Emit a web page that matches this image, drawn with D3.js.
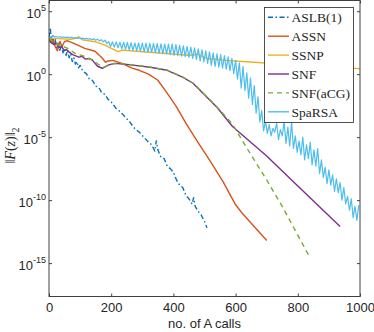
<!DOCTYPE html>
<html>
<head>
<meta charset="utf-8">
<script src="https://cdn.jsdelivr.net/npm/d3@7"></script>
<style>
  body { margin: 0; background: #fff; }
  svg { display: block; }
</style>
</head>
<body>
<svg id="chart" width="374" height="332"></svg>
<script>
// values are log10 of ||F(z)||_2
const seriesNames = ["ASLB(1)", "ASSN", "SSNP", "SNF", "SNF(aCG)", "SpaRSA"];
const seriesColors = ["#0072BD", "#D95319", "#EDB120", "#7E2F8E", "#77AC30", "#4DBEEE"];

const aslbCalls = [0, 4, 8, 12, 16, 20, 25, 30, 35, 40, 45, 50, 55, 60, 65, 70, 75, 80, 85, 90, 95, 100,
  110, 120, 130, 140, 150, 160, 170, 180, 190, 200, 215, 230, 245, 260, 275, 290, 305, 320, 330, 340,
  345, 350, 360, 370, 380, 390, 400, 410, 420, 430, 440, 450, 460, 465, 470, 480, 490, 500, 508];
const aslbLog = [2.9, 3.7, 2.6, 3.1, 2.3, 2.75, 2.0, 2.5, 1.9, 2.3, 1.7, 2.0, 1.5, 1.9, 1.3, 1.6, 1.0, 1.3, 0.8, 1.0, 0.5, 0.7,
  0.2, 0.05, -0.4, -0.5, -0.95, -1.05, -1.5, -1.6, -2.0, -2.2, -2.7, -3.0, -3.4, -3.8, -4.3, -4.6, -5.0, -5.4, -5.6, -6.1,
  -5.3, -6.0, -6.6, -6.7, -7.3, -7.5, -7.8, -8.4, -8.8, -9.0, -9.6, -9.9, -10.3, -9.8, -10.5, -10.9, -11.2, -11.7, -12.2];

const assnCalls = [0, 8, 14, 20, 27, 35, 42, 50, 60, 80, 115, 148, 170, 182, 190, 205, 235, 265, 290, 320,
  350, 380, 410, 440, 480, 520, 560, 600, 620, 700];
const assnLog = [2.84, 2.45, 2.7, 2.2, 1.85, 2.6, 2.2, 2.6, 2.65, 2.45, 2.05, 1.82, 1.3, 0.95, 1.05, 1.1, 0.86, 0.5, 0.31, 0.0,
  -0.48, -1.5, -2.6, -3.88, -5.46, -6.97, -8.55, -10.37, -11.0, -13.2];

const ssnpCalls = [0, 30, 70, 85, 95, 108, 148, 180, 212, 222, 235, 300, 380, 444, 466, 476, 490, 508, 560, 646, 750, 850, 1000];
const ssnpLog = [2.84, 2.82, 2.76, 2.85, 2.97, 2.72, 2.58, 2.31, 1.91, 1.79, 1.91, 1.78, 1.64, 1.5, 1.52, 1.63, 1.45, 1.25, 1.12, 0.97, 0.8, 0.65, 0.44];

const snfCalls = [0, 8, 16, 24, 32, 40, 48, 56, 66, 76, 86, 96, 106, 116, 128, 140, 156, 172, 190, 210, 250, 325,
  380, 431, 463, 508, 540, 590, 700, 800, 936];
const snfLog = [2.68, 2.5, 2.35, 2.45, 2.1, 2.2, 1.9, 1.95, 1.73, 1.55, 1.45, 1.35, 1.42, 1.2, 1.25, 1.1, 0.63, 0.47, 0.72, 0.86, 0.78, 0.55,
  0.31, -0.25, -0.72, -1.83, -2.62, -4.15, -6.5, -8.87, -12.1];

const acgCalls = [0, 10, 20, 30, 40, 50, 60, 72, 84, 96, 110, 124, 140, 160, 176, 192, 212, 250, 325, 380, 431, 463,
  508, 540, 590, 640, 700, 750, 839];
const acgLog = [2.84, 2.6, 2.5, 2.3, 2.35, 2.15, 2.05, 1.85, 1.65, 1.55, 1.45, 1.25, 1.15, 0.75, 0.55, 0.72, 0.86, 0.8, 0.57, 0.32, -0.24, -0.7,
  -1.8, -2.6, -3.96, -6.02, -8.4, -10.5, -14.56];

// SpaRSA logged every 6 calls
const spaCalls = d3.range(0, 1000, 6);
const spaLog = [
  3.0, 2.95, 3.02, 2.96, 2.99, 2.93, 2.97, 2.92, 2.95, 2.9, 2.94, 2.88, 2.92, 2.87, 2.9, 2.85,
  2.88, 2.83, 2.86, 2.8, 2.84, 2.78, 2.82, 2.74, 2.8, 2.7, 2.78, 2.64, 2.74, 2.56, 2.7, 2.45,
  2.58, 2.2, 2.57, 2.15, 2.56, 2.1, 2.55, 2.02, 2.53, 1.98, 2.52, 1.92, 2.5, 1.9, 2.49, 1.86,
  2.48, 1.83, 2.47, 1.8, 2.46, 1.76, 2.45, 1.73, 2.44, 1.7, 2.43, 1.66, 2.41, 1.62, 2.4, 1.6,
  2.39, 1.55, 2.38, 1.5,
  2.34, 1.47, 2.29, 1.43, 2.25, 1.39, 2.2, 1.33, 2.15, 1.25, 2.1, 1.18, 2.02, 1.06, 1.94, 0.98,
  1.86, 0.86, 1.77, 0.7, 1.7, 0.62, 1.62, 0.55, 1.55, 0.48, 1.47, 0.4, 1.38, 0.28, 1.25, 0.05, 1.1,
  -0.4, 0.9, -1.1, 0.6, -1.3, 0.1, -1.9, -0.3, -2.4, -0.9, -3.1, -1.8, -3.8, -2.9, -4.5, -3.7,
  -4.7, -4.0, -4.9, -4.3, -4.6, -3.9, -5.2, -4.4, -4.9, -3.8, -5.5, -4.2, -5.7, -3.8, -5.9, -4.9, -6.2,
  -5.3, -6.4, -5.0, -6.8, -5.6, -6.7, -5.4, -7.2, -6.0, -7.3, -5.9, -7.9, -6.8, -8.2, -7.4, -8.7,
  -7.6, -8.8, -8.0, -9.3, -8.3, -9.4, -8.6, -10.0, -9.0, -10.3, -9.7, -10.8, -9.9, -11.4, -10.5, -11.6, -10.4
];

const xTicks = [0, 200, 400, 600, 800, 1000];
const yTickExps = [5, 0, -5, -10, -15];

const series = [
  { calls: aslbCalls, logs: aslbLog, dash: "5,2.5,1.5,2.5" },
  { calls: assnCalls, logs: assnLog, dash: null },
  { calls: ssnpCalls, logs: ssnpLog, dash: null },
  { calls: snfCalls, logs: snfLog, dash: null },
  { calls: acgCalls, logs: acgLog, dash: "5,4" },
  { calls: spaCalls, logs: spaLog, dash: null }
];

const plotL = 49, plotR = 360, plotT = 0.5, plotB = 296.5;
const axisColor = "#404040";

const svg = d3.select("#chart");

const x = d3.scaleLinear().domain([0, 1000]).range([plotL, plotR]);
const y = d3.scaleLog().domain([Math.pow(10, -17.65), Math.pow(10, 5.85)]).range([plotB, plotT]);

svg.append("defs").append("clipPath").attr("id", "plotclip")
  .append("rect")
  .attr("x", plotL).attr("y", plotT)
  .attr("width", plotR - plotL).attr("height", plotB - plotT);

const line = d3.line()
  .x(d => x(d[0]))
  .y(d => y(Math.pow(10, d[1])));

const plot = svg.append("g").attr("clip-path", "url(#plotclip)");

series.forEach((s, i) => {
  const pts = s.calls.map((c, j) => [c, s.logs[j]]);
  plot.append("path")
    .datum(pts)
    .attr("d", line)
    .attr("fill", "none")
    .attr("stroke", seriesColors[i])
    .attr("stroke-width", i == 5 ? 1.2 : 1.4)
    .attr("stroke-linejoin", "round")
    .attr("stroke-dasharray", s.dash);
});

// axes, ticks inward like matlab
const yTickVals = yTickExps.map(e => Math.pow(10, e));

const xAxisBottom = svg.append("g")
  .attr("transform", `translate(0,${plotB})`)
  .call(d3.axisBottom(x).tickValues(xTicks).tickSizeInner(-3).tickSizeOuter(0).tickPadding(6).tickFormat(d3.format("d")));
const xAxisTop = svg.append("g")
  .attr("transform", `translate(0,${plotT})`)
  .call(d3.axisTop(x).tickValues(xTicks).tickSizeInner(-3).tickSizeOuter(0).tickFormat(""));
const yAxisLeft = svg.append("g")
  .attr("transform", `translate(${plotL},0)`)
  .call(d3.axisLeft(y).tickValues(yTickVals).tickSizeInner(-3).tickSizeOuter(0).tickFormat(""));
const yAxisRight = svg.append("g")
  .attr("transform", `translate(${plotR},0)`)
  .call(d3.axisRight(y).tickValues(yTickVals).tickSizeInner(-3).tickSizeOuter(0).tickFormat(""));

[xAxisBottom, xAxisTop, yAxisLeft, yAxisRight].forEach(g => {
  g.select(".domain").remove();
  g.selectAll("line").attr("stroke", axisColor);
  g.selectAll("text")
    .attr("fill", "#262626")
    .style("font-family", "'Liberation Sans', Arial, sans-serif")
    .style("font-size", "13px");
});

svg.append("rect")
  .attr("x", plotL).attr("y", plotT)
  .attr("width", plotR - plotL).attr("height", plotB - plotT)
  .attr("fill", "none")
  .attr("stroke", axisColor)
  .attr("stroke-width", 1);

// y tick labels 10^k
yTickExps.forEach(e => {
  const t = svg.append("text")
    .attr("x", 46)
    .attr("y", y(Math.pow(10, e)) + 7)
    .attr("text-anchor", "end")
    .attr("fill", "#262626")
    .style("font-family", "'Liberation Sans', Arial, sans-serif")
    .style("font-size", "13px");
  t.append("tspan").text("10");
  t.append("tspan").attr("dy", -7).style("font-size", "9px").text(String(e));
});

// axis labels
svg.append("text")
  .attr("x", (plotL + plotR) / 2)
  .attr("y", 328)
  .attr("text-anchor", "middle")
  .attr("fill", "#262626")
  .style("font-family", "'Liberation Sans', Arial, sans-serif")
  .style("font-size", "13px")
  .text("no. of A calls");

const ylab = svg.append("text")
  .attr("transform", `translate(15,${(plotT + plotB) / 2 - 3}) rotate(-90)`)
  .attr("text-anchor", "middle")
  .attr("fill", "#262626")
  .style("font-family", "'Liberation Serif', 'Times New Roman', serif")
  .style("font-size", "14px");
ylab.append("tspan").text("\u2016");
ylab.append("tspan").style("font-style", "italic").text("F");
ylab.append("tspan").text("(");
ylab.append("tspan").style("font-style", "italic").text("z");
ylab.append("tspan").text(")\u2016");
ylab.append("tspan").attr("dy", 4).style("font-size", "10px").text("2");

// legend
const legend = svg.append("g");
legend.append("rect")
  .attr("x", 264.5).attr("y", 7.5)
  .attr("width", 89).attr("height", 115)
  .attr("fill", "#fff")
  .attr("stroke", "#262626")
  .attr("stroke-width", 0.8);

seriesNames.forEach((name, i) => {
  const ly = 17.3 + i * 18.9;
  legend.append("line")
    .attr("x1", 268).attr("x2", 289)
    .attr("y1", ly).attr("y2", ly)
    .attr("stroke", seriesColors[i])
    .attr("stroke-width", 1.4)
    .attr("stroke-dasharray", series[i].dash);
  legend.append("text")
    .attr("x", 291.5).attr("y", ly)
    .attr("dy", "0.35em")
    .attr("fill", "#262626")
    .style("font-family", "'Liberation Serif', 'Times New Roman', serif")
    .style("font-size", "13.5px")
    .text(name);
});
</script>
</body>
</html>
